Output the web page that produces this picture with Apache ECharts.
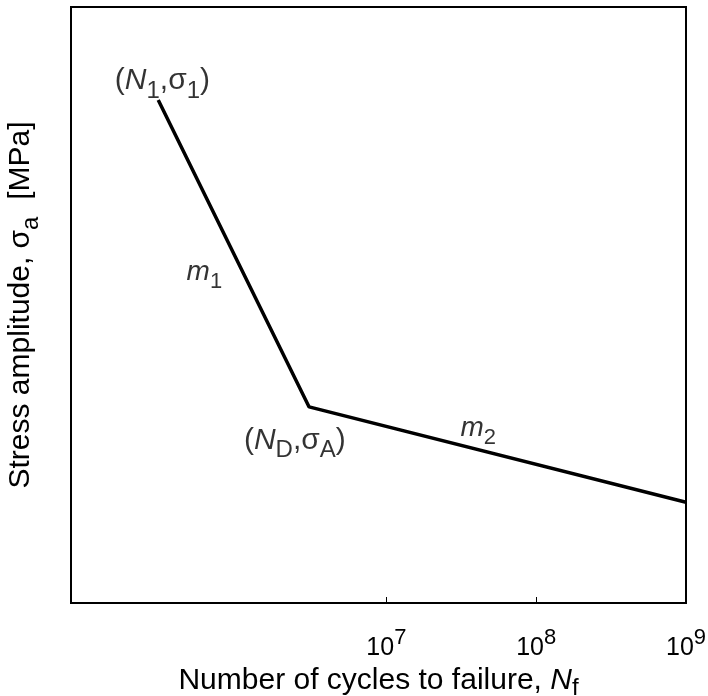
<!DOCTYPE html>
<html><head><meta charset="utf-8">
<script src="https://cdn.jsdelivr.net/npm/echarts@6/dist/echarts.min.js"></script>
<style>html,body{margin:0;padding:0;background:#fff}#c{width:708px;height:696px}</style>
</head><body><div id="c"></div>
<script>
// S-N curve (log cycles vs stress amplitude, arbitrary MPa scale)
const cyclesN = [3.0e5, 3.05e6, 1.0e9];
const stressS = [84.4, 32.9, 16.9];
const xTickValues = [1e7, 1e8, 1e9];
const xMin = 78500, xMax = 1e9;
const yMin = 0, yMax = 100;
// annotations in data coordinates
const annX = [3.2e5, 2.45e6, 6.1e5, 4.1e7];
const annY = [87.6, 27.3, 55.5, 29.4];
const annText = [
  '{n|(}{i|N}{sub|1}{n|,σ}{sub|1}{n|)}',
  '{n|(}{i|N}{sub|D}{n|,σ}{sub|A}{n|)}',
  '{mi|m}{ms|1}',
  '{mi|m}{ms|2}'
];

const FONT = 'Liberation Sans';
const base = {fontFamily: FONT, color: '#000', textBorderWidth: 0, textShadowBlur: 0};
const rich = {
  n: Object.assign({}, base, {fontSize: 30}),
  i: Object.assign({}, base, {fontSize: 30, fontStyle: 'italic'}),
  sub: Object.assign({}, base, {fontSize: 24, padding: [20, 0, 0, 0]}),
  tsub: Object.assign({}, base, {fontSize: 24, padding: [14, 0, 0, 0]}),
  mi: Object.assign({}, base, {fontSize: 28, fontStyle: 'italic'}),
  ms: Object.assign({}, base, {fontSize: 22, padding: [20, 0, 0, 0]}),
  sup: Object.assign({}, base, {fontSize: 22, padding: [0, 0, 20, 0]}),
  b: Object.assign({}, base, {fontSize: 25})
};

const chart = echarts.init(document.getElementById('c'), null, {renderer: 'canvas'});
chart.setOption({
  animation: false,
  backgroundColor: '#fff',
  grid: {left: 71, right: 22, top: 7, bottom: 93, outerBoundsMode: 'none', containLabel: false,
         show: true, borderColor: '#000', borderWidth: 2, backgroundColor: 'transparent'},
  xAxis: {
    type: 'log', logBase: 10, min: xMin, max: xMax,
    splitLine: {show: false}, minorTick: {show: false},
    axisLine: {show: true, lineStyle: {color: '#000', width: 2}},
    axisTick: {show: true, inside: true, length: 6, lineStyle: {color: '#000', width: 1}, customValues: xTickValues},
    axisLabel: {
      customValues: xTickValues, margin: 24, showMaxLabel: true, color: '#000',
      formatter: v => '{b|10}{sup|' + Math.round(Math.log10(v)) + '}',
      rich: rich
    },
    name: '{n|Number of cycles to failure, }{i|N}{tsub|f}',
    nameLocation: 'middle', nameGap: 59,
    nameTextStyle: {rich: rich, color: '#000'}
  },
  yAxis: {
    type: 'value', min: yMin, max: yMax,
    splitLine: {show: false},
    axisLine: {show: true, lineStyle: {color: '#000', width: 2}},
    axisTick: {show: false}, axisLabel: {show: false},
    name: '{n|Stress amplitude, σ}{sub|a}{n|  [MPa]}',
    nameLocation: 'middle', nameGap: 28,
    nameTextStyle: {rich: rich, color: '#000'}
  },
  series: [
    {
      type: 'line', data: cyclesN.map((n, k) => [n, stressS[k]]),
      showSymbol: false, symbol: 'none',
      lineStyle: {color: '#000', width: 3.5}, z: 3
    },
    {
      type: 'scatter', data: annX.map((x, k) => [x, annY[k], annText[k]]),
      symbolSize: 0, silent: true, itemStyle: {color: '#000'},
      label: {show: true, position: 'inside', color: '#000', textBorderWidth: 0,
              formatter: p => p.data[2], rich: rich}
    }
  ]
});
</script></body></html>
